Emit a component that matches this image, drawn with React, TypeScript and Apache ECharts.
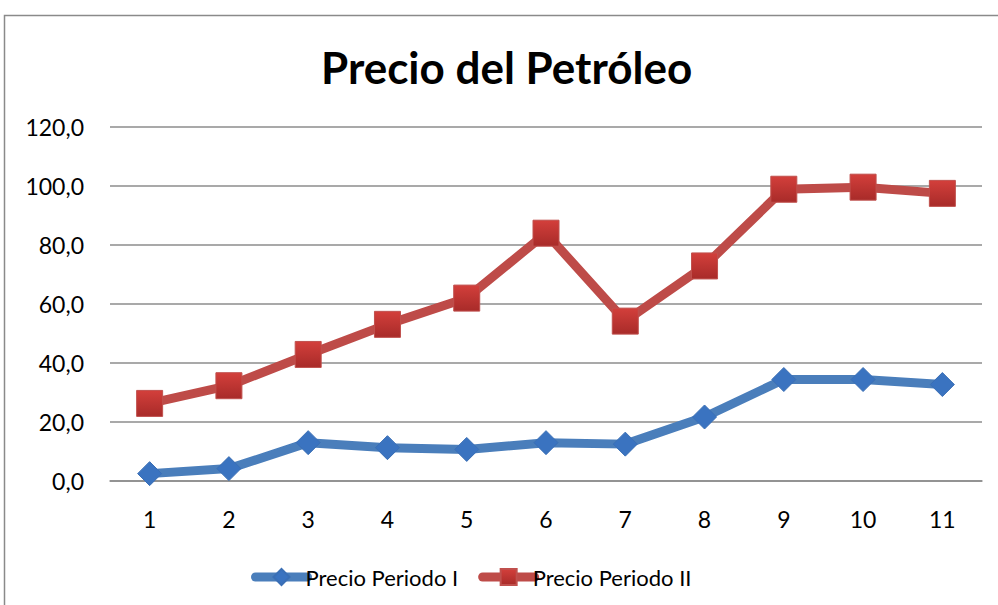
import React, { useEffect, useRef } from "react";
import * as echarts from "echarts";

const categories = ["1", "2", "3", "4", "5", "6", "7", "8", "9", "10", "11"];
const periodoI = [2.5, 4.2, 13.0, 11.3, 10.7, 13.0, 12.5, 21.7, 34.4, 34.4, 32.7];
const periodoII = [26.3, 32.3, 42.9, 53.1, 62.0, 84.0, 54.2, 72.9, 98.9, 99.6, 97.5];
const seriesNames = ["Precio Periodo I", "Precio Periodo II"];
const title = "Precio del Petróleo";

const FONT = "Lato, 'Open Sans', sans-serif";

export default function App() {
  const ref = useRef<HTMLDivElement>(null);
  useEffect(() => {
    if (!ref.current) return;
    const chart = echarts.init(ref.current, null, { renderer: "svg" });
    chart.setOption({
      animation: false,
      backgroundColor: "#ffffff",
      title: {
        text: title,
        left: 316,
        top: 40,
        textStyle: { fontFamily: FONT, fontSize: 44, fontWeight: "bold", color: "#000" },
      },
      graphic: [
        {
          type: "rect",
          shape: { x: 4.5, y: 15.5, width: 1100, height: 700 },
          style: { fill: "none", stroke: "#8a8a8a", lineWidth: 1.5 },
          silent: true,
        },
      ],
      legend: {
        bottom: 12,
        left: 246,
        itemWidth: 52,
        itemHeight: 20,
        itemGap: 20,
        lineStyle: { width: 9, cap: "round" },
        textStyle: { fontFamily: FONT, fontSize: 22, color: "#000", padding: [0, 0, 0, -7] },
        data: seriesNames,
      },
      grid: { left: 110, right: 16, top: 127, bottom: 124 },
      xAxis: {
        type: "category",
        data: categories,
        boundaryGap: true,
        axisLine: { show: true, lineStyle: { color: "#8c8c8c", width: 1.5 } },
        axisTick: { show: false },
        axisLabel: { fontFamily: FONT, fontSize: 23, color: "#000", margin: 26 },
      },
      yAxis: {
        type: "value",
        min: 0,
        max: 120,
        interval: 20,
        axisLine: { show: false },
        axisTick: { show: false },
        splitLine: { lineStyle: { color: "#8c8c8c", width: 1.5 } },
        axisLabel: {
          fontFamily: FONT,
          fontSize: 23,
          color: "#000",
          margin: 26,
          formatter: (v: number) => v.toFixed(1).replace(".", ","),
        },
      },
      series: [
        {
          name: seriesNames[0],
          type: "line",
          data: periodoI,
          symbol: "diamond",
          symbolSize: 24,
          lineStyle: { color: "#4a7ebb", width: 9 },
          itemStyle: { color: "#3a73c0", borderColor: "#3a6fb5", borderWidth: 1 },
          z: 3,
        },
        {
          name: seriesNames[1],
          type: "line",
          data: periodoII,
          symbol: "rect",
          symbolSize: 26,
          lineStyle: { color: "#be4b48", width: 9 },
          itemStyle: {
            color: new echarts.graphic.LinearGradient(0, 0, 0, 1, [
              { offset: 0, color: "#d33f3b" },
              { offset: 1, color: "#a82b29" },
            ]),
            borderColor: "#c0504d",
            borderWidth: 1,
          },
          z: 2,
        },
      ],
    });
    return () => chart.dispose();
  }, []);
  return (
    <div
      ref={ref}
      style={{ position: "fixed", left: 0, top: 0, width: 998, height: 605 }}
    />
  );
}
